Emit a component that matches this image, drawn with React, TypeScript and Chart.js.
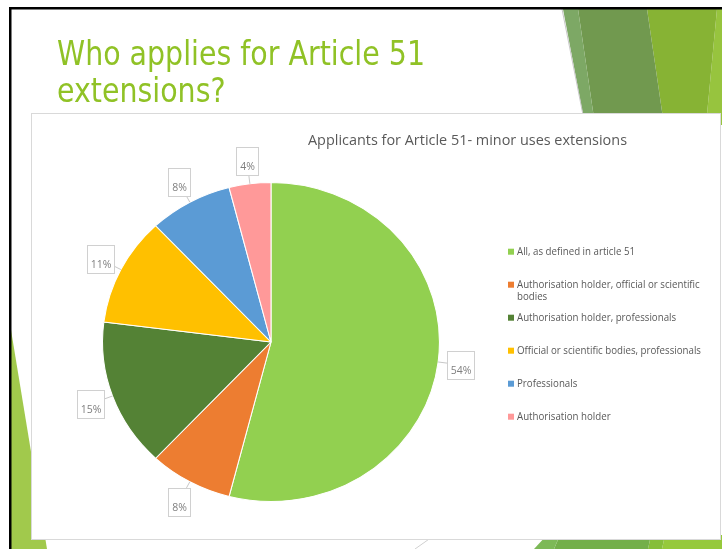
import React, { useEffect, useRef } from 'react';
import { Chart, registerables } from 'chart.js';

Chart.register(...registerables);

const SLIDE_TITLE = ['Who applies for Article 51', 'extensions?'];
const CHART_TITLE = 'Applicants for Article 51- minor uses extensions';
const CATEGORIES = [
  'All, as defined in article 51',
  'Authorisation holder, official or scientific bodies',
  'Authorisation holder, professionals',
  'Official or scientific bodies, professionals',
  'Professionals',
  'Authorisation holder',
];
const SHARES = [54, 8, 15, 11, 8, 4];
const SLICE_COLORS = ['#92D050', '#ED7D31', '#548235', '#FFC000', '#5B9BD5', '#FF9999'];

const W = 722;
const H = 549;
const CX = 271;
const CY = 342;
const R = 160;
const SX = 169 / 160;

type Pt = [number, number];
function poly(ctx: CanvasRenderingContext2D, pts: Pt[], color: string) {
  ctx.beginPath();
  ctx.moveTo(pts[0][0], pts[0][1]);
  for (let i = 1; i < pts.length; i++) ctx.lineTo(pts[i][0], pts[i][1]);
  ctx.closePath();
  ctx.fillStyle = color;
  ctx.fill();
}

function fitText(ctx: CanvasRenderingContext2D, text: string, x: number, y: number, k: number, align: CanvasTextAlign) {
  ctx.save();
  ctx.translate(x, y);
  ctx.scale(k, 1);
  ctx.textAlign = align;
  ctx.fillText(text, 0, 0);
  ctx.restore();
}

const slidePlugin = {
  id: 'slide',
  beforeDraw(chart: any) {
    const ctx: CanvasRenderingContext2D = chart.ctx;
    ctx.save();
    ctx.fillStyle = '#ffffff';
    ctx.fillRect(0, 0, W, H);

    // top-right decoration
    poly(ctx, [[717, 9], [722, 9], [722, 125], [706, 125]], '#97C43E');
    poly(ctx, [[647, 9], [717, 9], [706, 125], [664, 125]], '#87B334');
    poly(ctx, [[578, 9], [647, 9], [664, 125], [595, 125]], '#71994F');
    poly(ctx, [[563, 9], [578, 9], [595, 125], [585, 125]], '#7DA865');
    ctx.strokeStyle = '#C8C8C8';
    ctx.lineWidth = 1;
    ctx.beginPath();
    ctx.moveTo(562, 9);
    ctx.lineTo(585, 125);
    ctx.stroke();

    // bottom-left decoration
    poly(ctx, [[11, 330], [47, 549], [11, 549]], '#A1C94C');

    // bottom-right decoration
    poly(ctx, [[665, 535], [722, 535], [722, 549], [662, 549]], '#96C93B');
    poly(ctx, [[651, 535], [665, 535], [662, 549], [648, 549]], '#86BE3A');
    poly(ctx, [[560, 535], [651, 535], [648, 549], [554, 549]], '#73AF4A');
    poly(ctx, [[547, 535], [560, 535], [554, 549], [534, 549]], '#7DB957');
    ctx.strokeStyle = '#D0D0D0';
    ctx.beginPath();
    ctx.moveTo(415, 549);
    ctx.lineTo(432, 537);
    ctx.stroke();

    // slide title
    ctx.fillStyle = '#90C226';
    ctx.font = '33px "DejaVu Sans Condensed"';
    ctx.textBaseline = 'alphabetic';
    const k = 368 / ctx.measureText(SLIDE_TITLE[0]).width;
    fitText(ctx, SLIDE_TITLE[0], 57, 65, k, 'left');
    fitText(ctx, SLIDE_TITLE[1], 57, 102, k, 'left');

    // chart box
    ctx.fillStyle = '#ffffff';
    ctx.fillRect(31, 113, 689, 426);
    ctx.strokeStyle = '#D9D9D9';
    ctx.strokeRect(31.5, 113.5, 689, 426);

    // black frame
    ctx.fillStyle = '#000000';
    ctx.fillRect(9, 7, W - 9, 2.5);
    ctx.fillRect(9, 7, 2.5, H - 7);

    // chart title
    ctx.fillStyle = '#595959';
    ctx.font = '14px "Open Sans"';
    ctx.textBaseline = 'middle';
    const kt = 319 / ctx.measureText(CHART_TITLE).width;
    fitText(ctx, CHART_TITLE, 467.5, 141, kt, 'center');

    // legend
    ctx.font = '10px "Open Sans"';
    const kl = 184 / ctx.measureText(CATEGORIES[3]).width;
    const maxW = 190 / kl;
    CATEGORIES.forEach((cat, i) => {
      const y0 = 251.7 + 33 * i;
      ctx.fillStyle = SLICE_COLORS[i];
      ctx.fillRect(508, y0 - 3, 6, 6);
      const words = cat.split(' ');
      const lines: string[] = [];
      let cur = '';
      words.forEach((w) => {
        const t = cur ? cur + ' ' + w : w;
        if (ctx.measureText(t).width > maxW && cur) {
          lines.push(cur);
          cur = w;
        } else cur = t;
      });
      lines.push(cur);
      ctx.fillStyle = '#595959';
      lines.forEach((ln, j) => fitText(ctx, ln, 517, y0 + 12.7 * j, kl, 'left'));
    });
    ctx.restore();
  },
  beforeDatasetsDraw(chart: any) {
    const ctx: CanvasRenderingContext2D = chart.ctx;
    const a = chart.chartArea;
    const cx = (a.left + a.right) / 2;
    const cy = (a.top + a.bottom) / 2;
    ctx.save();
    ctx.translate(cx, cy);
    ctx.scale(SX, 1);
    ctx.translate(-cx, -cy);
  },
  afterDatasetsDraw(chart: any) {
    const ctx: CanvasRenderingContext2D = chart.ctx;
    ctx.restore();
    ctx.save();
    const meta = chart.getDatasetMeta(0);
    meta.data.forEach((arc: any, i: number) => {
      const p = arc.getProps(['x', 'y', 'startAngle', 'endAngle', 'outerRadius'], true);
      const mid = (p.startAngle + p.endAngle) / 2;
      const dx = Math.cos(mid);
      const dy = Math.sin(mid);
      const ex = p.x + p.outerRadius * SX * dx;
      const ey = p.y + p.outerRadius * dy;
      const bx = ex + 23 * dx;
      const by = ey + 23 * dy;
      const text = `${SHARES[i]}%`;
      const w = text.length > 2 ? 27 : 22;
      const h = 28;
      const left = Math.round(bx - w / 2) + 0.5;
      const top = Math.round(by - h / 2) + 0.5;
      const vx = ex - bx;
      const vy = ey - by;
      const t = Math.min(Math.abs(vx) > 0.01 ? w / 2 / Math.abs(vx) : 99, Math.abs(vy) > 0.01 ? h / 2 / Math.abs(vy) : 99);
      ctx.strokeStyle = '#C8C8C8';
      ctx.lineWidth = 1;
      ctx.beginPath();
      ctx.moveTo(bx + vx * t, by + vy * t);
      ctx.lineTo(ex, ey);
      ctx.stroke();
      ctx.fillStyle = '#ffffff';
      ctx.fillRect(left, top, w, h);
      ctx.strokeStyle = '#D0D0D0';
      ctx.strokeRect(left, top, w, h);
      ctx.fillStyle = '#7F7F7F';
      ctx.font = '10.5px "Open Sans"';
      ctx.textAlign = 'center';
      ctx.textBaseline = 'middle';
      ctx.fillText(text, left + w / 2, top + h / 2 + 6);
    });
    ctx.restore();
  },
};

export default function App() {
  const ref = useRef<HTMLCanvasElement | null>(null);
  useEffect(() => {
    if (!ref.current) return;
    const chart = new Chart(ref.current, {
      type: 'pie',
      data: {
        labels: CATEGORIES,
        datasets: [
          {
            data: SHARES,
            backgroundColor: SLICE_COLORS,
            borderColor: '#ffffff',
            borderWidth: 1,
          },
        ],
      },
      options: {
        responsive: false,
        animation: false,
        events: [],
        layout: {
          padding: {
            left: CX - R,
            right: W - (CX + R),
            top: CY - R,
            bottom: H - (CY + R),
          },
        },
        plugins: {
          legend: { display: false },
          title: { display: false },
          tooltip: { enabled: false },
        },
      },
      plugins: [slidePlugin],
    });
    return () => chart.destroy();
  }, []);
  return (
    <div style={{ position: 'absolute', left: 0, top: 0, width: W, height: H }}>
      <canvas ref={ref} width={W} height={H} style={{ display: 'block', width: W, height: H }} />
    </div>
  );
}
